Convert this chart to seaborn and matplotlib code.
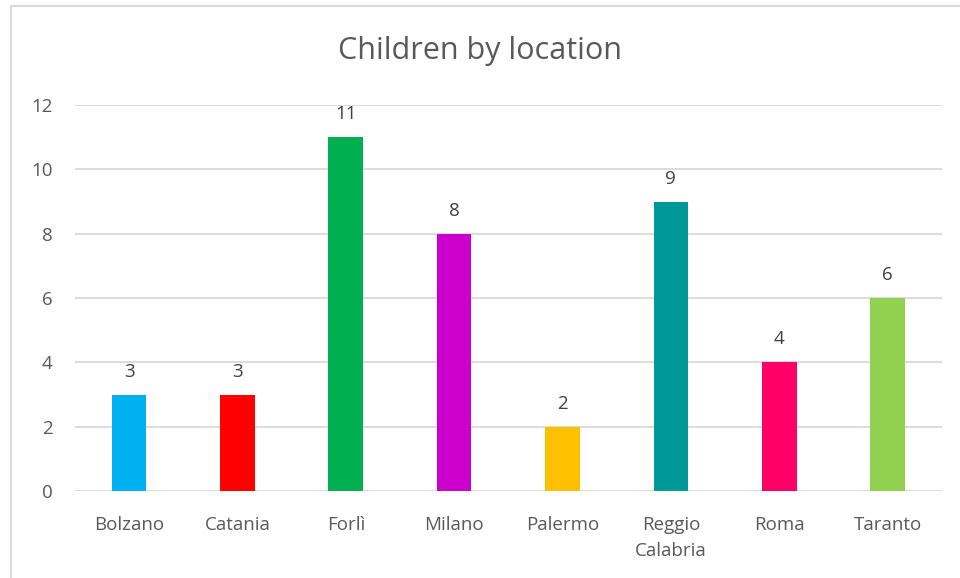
import numpy as np
import pandas as pd
import matplotlib.pyplot as plt
import seaborn as sns
from matplotlib.lines import Line2D

locations = ['Bolzano', 'Catania', 'Forlì', 'Milano', 'Palermo', 'Reggio\nCalabria', 'Roma', 'Taranto']
children = [3, 3, 11, 8, 2, 9, 4, 6]
colors = ['#00B0F0', '#FF0000', '#00B050', '#CC00CC', '#FFC000', '#009999', '#FF0066', '#92D050']

df = pd.DataFrame({'location': locations, 'children': children})

sns.set_style('white')
plt.rcParams['font.family'] = ['Open Sans', 'DejaVu Sans']

fig = plt.figure(figsize=(9.6, 5.78), dpi=100)
ax = fig.add_axes([0.078, 0.1505, 0.903, 0.6678])
sns.barplot(x='location', y='children', hue='location', data=df, palette=colors,
            width=0.32, legend=False, ax=ax, saturation=1, linewidth=0)

ax.set_ylim(0, 12)
ax.set_yticks(range(0, 13, 2))
ax.set_xlim(-0.5, len(locations) - 0.5)
ax.grid(axis='y', color='#D9D9D9', linewidth=1.3)
ax.set_axisbelow(True)
for s in ax.spines.values():
    s.set_visible(False)
ax.set_xlabel('')
ax.set_ylabel('')
ax.tick_params(axis='both', length=0, labelsize=13.5, labelcolor='#595959')
ax.tick_params(axis='y', pad=16)
ax.tick_params(axis='x', pad=18)
for lbl in ax.get_xticklabels():
    lbl.set_linespacing(1.55)

for i, v in enumerate(children):
    ax.annotate(str(v), (i, v), xytext=(0, 10), textcoords='offset points',
                ha='center', va='bottom', fontsize=13.5, color='#404040')

fig.text(0.5, 0.912, 'Children by location', ha='center', va='center',
         fontsize=22, color='#595959')

# light chart border (left and top visible)
fig.add_artist(Line2D([0.0115, 0.0115], [0, 0.99], transform=fig.transFigure, color='#D9D9D9', lw=1.5))
fig.add_artist(Line2D([0.0115, 1], [0.99, 0.99], transform=fig.transFigure, color='#D9D9D9', lw=1.5))

fig.savefig('out.png', dpi=100)
